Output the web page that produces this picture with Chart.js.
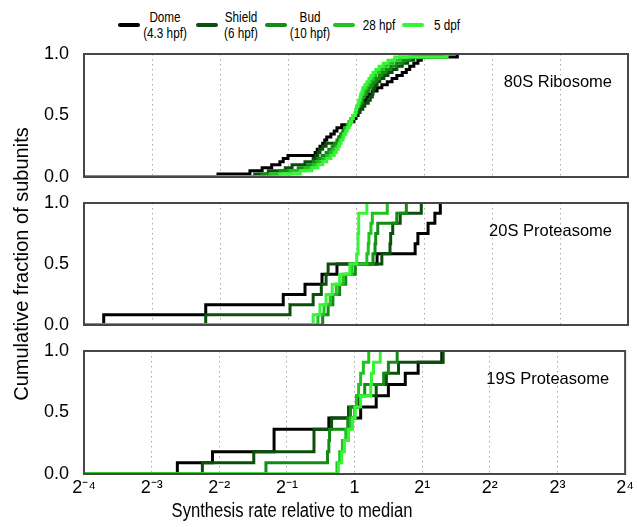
<!DOCTYPE html>
<html>
<head>
<meta charset="utf-8">
<title>Synthesis rate CDFs</title>
<script src="https://cdn.jsdelivr.net/npm/chart.js@4.4.1/dist/chart.umd.min.js"></script>
<style>
  html, body { margin: 0; padding: 0; background: #fff; }
  #figure { position: relative; width: 637px; height: 527px; overflow: hidden; }
  #figure canvas { position: absolute; left: 0; top: 0; }
  #legend { position: absolute; left: 0; top: 0; width: 637px; height: 44px;
            font-family: 'Liberation Sans', Arial, sans-serif;
            font-size: 15px; line-height: 16.6px; color: #000; }
  .swatch { position: absolute; top: 22.5px; width: 22px; height: 4px; border-radius: 2px; }
  .lbl { position: absolute; width: 80px; margin-left: -40px; text-align: center; white-space: nowrap;
         transform: scaleX(0.78); transform-origin: 50% 50%; }
</style>
</head>
<body>
<div id="figure">
  <div id="legend"></div>
  <canvas id="c80S" width="637" height="527"></canvas>
  <canvas id="c20S" width="637" height="527"></canvas>
  <canvas id="c19S" width="637" height="527"></canvas>
</div>
<script>
// Developmental stages, in legend order
const stageNames = ['Dome', 'Shield', 'Bud', '28 hpf', '5 dpf'];
const stageTimes = ['(4.3 hpf)', '(6 hpf)', '(10 hpf)', '', ''];
const stageColors = ['#000000', '#0a4f0a', '#128c12', '#1fc21f', '#36f536'];

// Axis ticks (x is log2 of rate relative to median)
const xExponents = [-4, -3, -2, -1, 0, 1, 2, 3, 4];
const yTicks = [0, 0.5, 1];

// Sorted log2(synthesis rate / median), one value per subunit
// 80S ribosome
const ribo80S_dome = [-2.03, -1.56, -1.38, -1.24, -1.12, -1.07, -1.00, -0.60, -0.57, -0.53, -0.49, -0.46, -0.43, -0.37, -0.32, -0.28, -0.21, -0.09, -0.03, 0.00,
  0.03, 0.04, 0.07, 0.09, 0.12, 0.15, 0.19, 0.24, 0.31, 0.38, 0.46, 0.53, 0.60, 0.68, 0.74, 0.79, 0.85, 0.91, 0.96, 1.49];
const ribo80S_shield = [-1.49, -1.29, -1.04, -0.94, -0.75, -0.63, -0.59, -0.56, -0.53, -0.49, -0.44, -0.26, -0.25, -0.22, -0.19, -0.16, -0.13, -0.10, -0.07, -0.04,
  0.00, 0.06, 0.10, 0.13, 0.18, 0.21, 0.24, 0.25, 0.26, 0.28, 0.31, 0.35, 0.41, 0.47, 0.53, 0.60, 0.68, 0.76, 0.85, 1.12];
const ribo80S_bud = [-1.38, -1.12, -0.85, -0.71, -0.63, -0.56, -0.50, -0.44, -0.40, -0.35, -0.31, -0.28, -0.25, -0.22, -0.19, -0.16, -0.13, -0.10, -0.07, -0.04,
  -0.01, 0.01, 0.03, 0.06, 0.09, 0.10, 0.13, 0.16, 0.19, 0.22, 0.25, 0.29, 0.34, 0.38, 0.44, 0.51, 0.59, 0.69, 0.79, 1.24];
const ribo80S_28hpf = [-1.26, -0.97, -0.75, -0.63, -0.56, -0.49, -0.43, -0.38, -0.34, -0.29, -0.26, -0.24, -0.21, -0.19, -0.16, -0.15, -0.12, -0.09, -0.07, -0.04,
  -0.01, 0.00, 0.01, 0.04, 0.06, 0.07, 0.09, 0.12, 0.13, 0.16, 0.19, 0.22, 0.25, 0.29, 0.34, 0.40, 0.46, 0.54, 0.65, 1.31];
const ribo80S_5dpf = [-1.12, -0.82, -0.65, -0.56, -0.49, -0.43, -0.37, -0.32, -0.29, -0.26, -0.24, -0.22, -0.19, -0.18, -0.15, -0.13, -0.10, -0.09, -0.06, -0.04,
  -0.01, 0.00, 0.01, 0.03, 0.04, 0.06, 0.07, 0.09, 0.10, 0.13, 0.16, 0.19, 0.22, 0.25, 0.29, 0.34, 0.40, 0.47, 0.57, 1.34];

// 20S proteasome
const prot20S_dome = [-3.71, -2.21, -1.07, -0.75, -0.50, -0.28, 0.31, 0.87, 0.91, 1.06, 1.16, 1.24];
const prot20S_shield = [-2.21, -0.97, -0.63, -0.51, -0.44, -0.41, 0.38, 0.50, 0.51, 0.54, 0.65, 0.96];
const prot20S_bud = [-0.49, -0.41, -0.34, -0.24, -0.15, -0.01, 0.25, 0.28, 0.29, 0.32, 0.60, 0.74];
const prot20S_28hpf = [-0.56, -0.47, -0.38, -0.29, -0.19, -0.06, 0.16, 0.18, 0.19, 0.22, 0.24, 0.46];
const prot20S_5dpf = [-0.63, -0.53, -0.44, -0.35, -0.24, -0.09, 0.01, 0.03, 0.03, 0.04, 0.04, 0.16];

// 19S proteasome
const prot19S_dome = [-2.62, -2.10, -1.19, -1.19, -0.38, 0.09, 0.32, 0.50, 0.75, 0.94, 1.29];
const prot19S_shield = [-2.25, -1.49, -0.60, -0.60, -0.34, -0.09, 0.06, 0.32, 0.47, 0.65, 1.31];
const prot19S_bud = [-1.31, -0.40, -0.38, -0.37, -0.10, -0.06, 0.03, 0.15, 0.43, 0.50, 0.63];
const prot19S_28hpf = [-0.26, -0.22, -0.18, -0.13, -0.06, 0.00, 0.03, 0.06, 0.09, 0.13, 0.21];
const prot19S_5dpf = [-0.24, -0.19, -0.15, -0.09, -0.03, 0.01, 0.09, 0.24, 0.25, 0.28, 0.38];

const panelNames = ['80S Ribosome', '20S Proteasome', '19S Proteasome'];
const panelSeries = [
  [ribo80S_dome, ribo80S_shield, ribo80S_bud, ribo80S_28hpf, ribo80S_5dpf],
  [prot20S_dome, prot20S_shield, prot20S_bud, prot20S_28hpf, prot20S_5dpf],
  [prot19S_dome, prot19S_shield, prot19S_bud, prot19S_28hpf, prot19S_5dpf]
];
const xTitle = 'Synthesis rate relative to median';
const yTitle = 'Cumulative fraction of subunits';

// Layout
const canvasIds = ['c80S', 'c20S', 'c19S'];
const panelTops = [54, 203, 351];
const panelBottoms = [177, 325, 474];
const figHeight = 527;
const xTitleCenter = 292;
const xTitleBaseline = 516.5;
const regular = "'Liberation Sans', Arial, sans-serif";

Chart.defaults.font.family = regular;
Chart.defaults.color = '#000';

// Empirical CDF as step points, starting at the left edge
function cdfPoints(values) {
  const n = values.length;
  const pts = [{ x: xExponents[0], y: 0 }];
  values.forEach((v, i) => pts.push({ x: v, y: (i + 1) / n }));
  return pts;
}

function powLabel(v) {
  if (v === 0) return '1';
  const sup = { '-': '\u207B', '1': '\u00B9', '2': '\u00B2', '3': '\u00B3', '4': '\u2074' };
  return '2' + String(v).split('').map(c => sup[c]).join('');
}

// Box around each panel, its name in the top-right corner,
// and (bottom panel only) the narrow x axis title
const panelFrame = {
  id: 'panelFrame',
  afterDatasetsDraw(chart, args, opts) {
    const { ctx, chartArea: a } = chart;
    ctx.save();
    ctx.strokeStyle = '#474747';
    ctx.lineWidth = 2;
    ctx.strokeRect(a.left, a.top, a.right - a.left, a.bottom - a.top);
    ctx.fillStyle = '#000';
    ctx.font = '16.5px ' + regular;
    ctx.textAlign = 'right';
    ctx.textBaseline = 'alphabetic';
    ctx.fillText(opts.label, a.right - 16, a.top + 33);
    ctx.restore();
  },
  afterDraw(chart, args, opts) {
    if (!opts.xTitle) return;
    const ctx = chart.ctx;
    ctx.save();
    ctx.fillStyle = '#000';
    ctx.font = '20px ' + regular;
    ctx.textAlign = 'center';
    ctx.textBaseline = 'alphabetic';
    ctx.translate(xTitleCenter, xTitleBaseline);
    ctx.scale(0.83, 1);
    ctx.fillText(opts.xTitle, 0, 0);
    ctx.restore();
  }
};

function makeChart(i) {
  const isLast = i === panelNames.length - 1;
  const isMiddle = i === 1;
  const datasets = panelSeries[i].map((vals, k) => ({
    label: stageNames[k],
    data: cdfPoints(vals),
    borderColor: stageColors[k],
    backgroundColor: stageColors[k],
    borderWidth: 3,
    pointRadius: 0,
    stepped: true,
    fill: false,
    order: stageNames.length - k
  }));

  return new Chart(document.getElementById(canvasIds[i]), {
    type: 'line',
    data: { datasets },
    options: {
      responsive: false,
      animation: false,
      events: [],
      layout: { padding: { top: panelTops[i], bottom: isLast ? 0 : figHeight - panelBottoms[i], left: 0, right: 9 } },
      plugins: {
        legend: { display: false },
        tooltip: { enabled: false },
        panelFrame: { label: panelNames[i], xTitle: isLast ? xTitle : '' }
      },
      scales: {
        x: {
          type: 'linear',
          min: -4,
          max: 4,
          afterBuildTicks: s => { s.ticks = xExponents.map(v => ({ value: v })); },
          afterFit: s => { s.height = isLast ? figHeight - panelBottoms[i] : 0; },
          grid: {
            drawTicks: false,
            lineWidth: 1,
            color: c => (c.tick && Math.abs(c.tick.value) === 4) ? 'rgba(0,0,0,0)' : '#a8a8a8'
          },
          border: { display: false, dash: [1.5, 3.5] },
          ticks: { display: isLast, padding: 3, font: { size: 18 }, maxRotation: 0, autoSkip: false, callback: v => powLabel(v) }
        },
        y: {
          min: 0,
          max: 1,
          afterBuildTicks: s => { s.ticks = yTicks.map(v => ({ value: v })); },
          afterFit: s => { s.width = 84; },
          grid: { display: false },
          border: { display: false },
          ticks: { padding: 7, font: { size: 18 }, callback: v => v.toFixed(1) },
          title: { display: isMiddle, text: yTitle, font: { size: 20 }, padding: { top: 10 } }
        }
      }
    },
    plugins: [panelFrame]
  });
}

// HTML legend above the panels
const legendSwatchX = [118, 196, 265, 333, 402];
const legendLabelX = [165, 241, 310, 379, 447];
const legend = document.getElementById('legend');
stageNames.forEach((name, k) => {
  const sw = document.createElement('div');
  sw.className = 'swatch';
  sw.style.left = legendSwatchX[k] + 'px';
  sw.style.background = stageColors[k];
  legend.appendChild(sw);

  const lb = document.createElement('div');
  lb.className = 'lbl';
  lb.style.left = legendLabelX[k] + 'px';
  if (stageTimes[k]) {
    lb.style.top = '8.5px';
    lb.innerHTML = name + '<br>' + stageTimes[k];
  } else {
    lb.style.top = '16.5px';
    lb.textContent = name;
  }
  legend.appendChild(lb);
});

panelNames.forEach((_, i) => makeChart(i));
</script>
</body>
</html>
